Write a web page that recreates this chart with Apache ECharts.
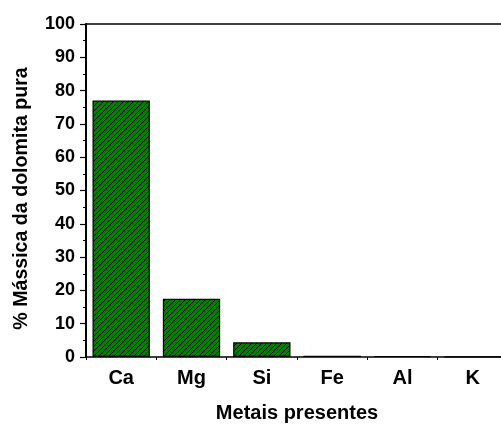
<!DOCTYPE html>
<html><head><meta charset="utf-8">
<script src="https://cdn.jsdelivr.net/npm/echarts@6/dist/echarts.min.js"></script>
<style>html,body{margin:0;padding:0;background:#fff}#c{width:501px;height:424px}</style>
</head><body><div id="c"></div>
<script>
const categories = ['Ca', 'Mg', 'Si', 'Fe', 'Al', 'K'];
const values = [77.0, 17.5, 4.4, 0.4, 0.3, 0.1];
const yTicks = { min: 0, max: 100, interval: 10 };
const xTitle = 'Metais presentes';
const yTitle = '% Mássica da dolomita pura';

function hatch() {
  const s = 5;
  const cv = document.createElement('canvas');
  cv.width = s; cv.height = s;
  const g = cv.getContext('2d');
  g.fillStyle = '#008000';
  g.fillRect(0, 0, s, s);
  g.strokeStyle = '#000';
  g.lineWidth = 1;
  g.beginPath();
  g.moveTo(-1, s + 1); g.lineTo(s + 1, -1);
  g.moveTo(-1, 1); g.lineTo(1, -1);
  g.moveTo(s - 1, s + 1); g.lineTo(s + 1, s - 1);
  g.stroke();
  return cv;
}

const font = 'Liberation Sans, Arial, sans-serif';
const chart = echarts.init(document.getElementById('c'), null, { renderer: 'canvas' });
chart.setOption({
  animation: false,
  grid: { left: 86, top: 24, width: 422, height: 333, containLabel: false, outerBoundsMode: 'none' },
  xAxis: [
    {
      type: 'category', data: categories, position: 'bottom',
      axisLine: { lineStyle: { color: '#000', width: 1.5 } },
      axisTick: { alignWithLabel: true, length: 6, lineStyle: { color: '#000', width: 1.2 } },
      axisLabel: { color: '#000', fontFamily: font, fontWeight: 'bold', fontSize: 20, margin: 11 },
      name: xTitle, nameLocation: 'middle', nameGap: 46,
      nameTextStyle: { color: '#000', fontFamily: font, fontWeight: 'bold', fontSize: 20 }
    },
    {
      type: 'category', data: categories, position: 'bottom', offset: 0,
      axisLine: { show: false },
      axisTick: { show: true, length: 3, lineStyle: { color: '#000', width: 1 } },
      axisLabel: { show: false }
    },
    {
      type: 'category', data: categories, position: 'top',
      axisLine: { show: true, lineStyle: { color: '#000', width: 1.5 } },
      axisTick: { show: false }, axisLabel: { show: false }
    }
  ],
  yAxis: {
    type: 'value', min: yTicks.min, max: yTicks.max, interval: yTicks.interval,
    axisLine: { show: true, lineStyle: { color: '#000', width: 2 } },
    axisTick: { show: true, length: 6, lineStyle: { color: '#000', width: 1.2 } },
    minorTick: { show: true, splitNumber: 2, length: 3, lineStyle: { color: '#000', width: 1 } },
    splitLine: { show: false },
    axisLabel: { color: '#000', fontFamily: font, fontWeight: 'bold', fontSize: 18, margin: 11 },
    name: yTitle, nameLocation: 'middle', nameGap: 54, nameRotate: 90,
    nameTextStyle: { color: '#000', fontFamily: font, fontWeight: 'bold', fontSize: 19.6, padding: [0, 16, 0, 0] }
  },
  series: [{
    type: 'bar', data: values, xAxisIndex: 0, barCategoryGap: '18.5%',
    itemStyle: { color: { image: hatch(), repeat: 'repeat' }, borderColor: '#000', borderWidth: 1.2 }
  }]
});
</script></body></html>
